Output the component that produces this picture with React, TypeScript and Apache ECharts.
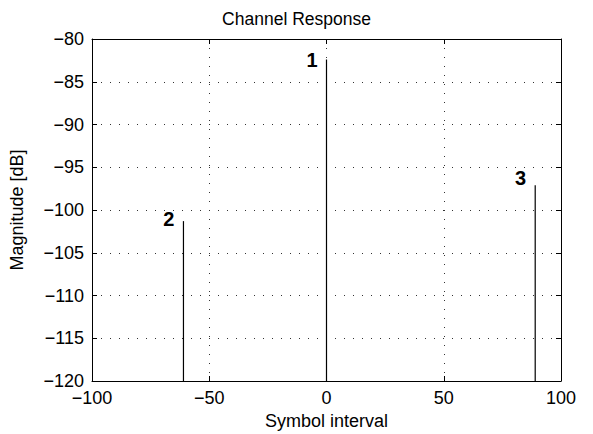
import React, { useEffect, useRef } from "react";
import * as echarts from "echarts";

const symbolOffsets = [0, -61, 89];
const magnitudes = [-82.4, -101.3, -97.1];
const pathLabels = ["1", "2", "3"];
const xTicks = [-100, -50, 0, 50, 100];
const yTicks = [-120, -115, -110, -105, -100, -95, -90, -85, -80];

const Y_MIN = -120;
const FONT = "Liberation Sans, Arial, Helvetica, sans-serif";
const labelDy = [0, -2, -7];

const fmt = (v: number) => String(v).replace("-", "\u2212");

export default function App() {
  const ref = useRef<HTMLDivElement>(null);
  useEffect(() => {
    if (!ref.current) return;
    const chart = echarts.init(ref.current, null, { renderer: "svg" });
    const gridLine = {
      show: true,
      lineStyle: { color: "#333", width: 1, type: [1, 8] as any },
    };
    const axisLine = { show: true, onZero: false, lineStyle: { color: "#000", width: 1 } };
    const axisTick = { show: true, inside: true, length: 5, lineStyle: { color: "#000" } };
    chart.setOption({
      animation: false,
      backgroundColor: "#fff",
      title: {
        text: "Channel Response",
        left: "center",
        top: 5,
        textStyle: { fontFamily: FONT, fontSize: 17.5, fontWeight: "normal", color: "#000" },
      },
      grid: { left: 92, top: 39, right: 32, bottom: 53, containLabel: false, outerBoundsMode: "none" },
      xAxis: [
        {
          type: "value",
          min: xTicks[0],
          max: xTicks[xTicks.length - 1],
          interval: 50,
          position: "bottom",
          name: "Symbol interval",
          nameLocation: "middle",
          nameGap: 31,
          nameTextStyle: { fontFamily: FONT, fontSize: 18, color: "#000" },
          axisLine,
          axisTick,
          axisLabel: { fontFamily: FONT, fontSize: 18, color: "#000", margin: 8, formatter: fmt },
          splitLine: gridLine,
        },
        {
          type: "value",
          min: xTicks[0],
          max: xTicks[xTicks.length - 1],
          interval: 50,
          position: "top",
          axisLine,
          axisTick,
          axisLabel: { show: false },
          splitLine: { show: false },
        },
      ],
      yAxis: [
        {
          type: "value",
          min: yTicks[0],
          max: yTicks[yTicks.length - 1],
          interval: 5,
          position: "left",
          name: "Magnitude [dB]",
          nameLocation: "middle",
          nameGap: 66,
          nameTextStyle: { fontFamily: FONT, fontSize: 18, color: "#000" },
          axisLine,
          axisTick,
          axisLabel: { fontFamily: FONT, fontSize: 18, color: "#000", margin: 8, formatter: fmt },
          splitLine: gridLine,
        },
        {
          type: "value",
          min: yTicks[0],
          max: yTicks[yTicks.length - 1],
          interval: 5,
          position: "right",
          axisLine,
          axisTick,
          axisLabel: { show: false },
          splitLine: { show: false },
        },
      ],
      series: [
        {
          type: "custom",
          xAxisIndex: 0,
          yAxisIndex: 0,
          data: symbolOffsets.map((x, i) => [x, magnitudes[i]]),
          renderItem: (params: any, api: any) => {
            const x = api.value(0);
            const y = api.value(1);
            const base = api.coord([x, Y_MIN]);
            const top = api.coord([x, y]);
            const i = params.dataIndex;
            return {
              type: "group",
              children: [
                {
                  type: "line",
                  shape: { x1: base[0], y1: base[1], x2: top[0], y2: top[1] },
                  style: { stroke: "#000", lineWidth: 1.2 },
                },
                {
                  type: "text",
                  style: {
                    text: pathLabels[i],
                    x: top[0] - 9,
                    y: top[1] + labelDy[i],
                    align: "right",
                    verticalAlign: "middle",
                    font: `bold 20px ${FONT}`,
                    fill: "#000",
                  },
                },
              ],
            };
          },
        },
      ],
    });
    return () => chart.dispose();
  }, []);
  return <div ref={ref} style={{ width: 593, height: 434, position: "absolute", left: 0, top: 0 }} />;
}
